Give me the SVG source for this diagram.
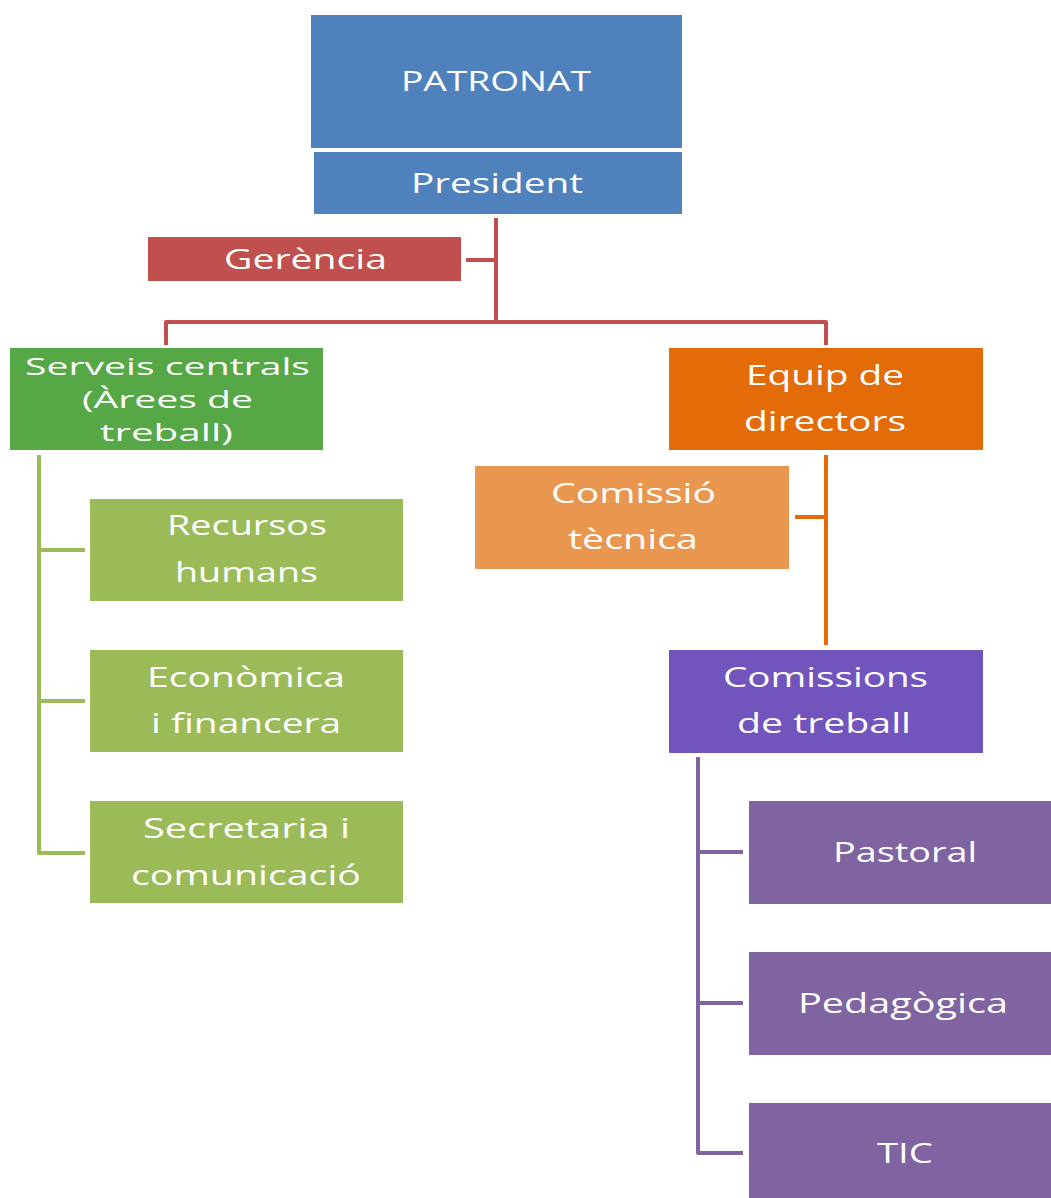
<svg xmlns="http://www.w3.org/2000/svg" width="1051" height="1198" viewBox="0 0 1051 1198">
<style>
text{font-family:"Open Sans","Noto Sans","DejaVu Sans",sans-serif;font-size:27px;fill:#ffffff;text-anchor:middle}
.tight text{font-size:24px}
.ln{fill:none;stroke-width:4;stroke-linejoin:round}
</style>
<rect width="1051" height="1198" fill="#ffffff"/>
<g id="connectors">
<path class="ln" stroke="#C0504D" d="M496,218 V322 M466,260 H496 M166,345 V322 H826 V345"/>
<path class="ln" stroke="#9BBB59" d="M39,455 V853 H85 M39,550 H85 M39,701 H85"/>
<path class="ln" stroke="#E36C09" d="M826,455 V645 M795,517 H826"/>
<path class="ln" stroke="#8064A2" d="M698,757 V1153 H743 M698,852 H743 M698,1003 H743"/>
</g>
<g id="patronat"><rect x="311" y="15" width="371" height="133" fill="#4F81BD"/><text x="496" y="91" textLength="190" lengthAdjust="spacingAndGlyphs">PATRONAT</text></g>
<g id="president"><rect x="314" y="152" width="368" height="62" fill="#4F81BD"/><text x="497" y="193" textLength="172" lengthAdjust="spacingAndGlyphs">President</text></g>
<g id="gerencia"><rect x="148" y="237" width="313" height="44" fill="#C0504D"/><text x="305.5" y="269" textLength="163" lengthAdjust="spacingAndGlyphs">Gerència</text></g>
<g id="serveis" class="tight"><rect x="10" y="348" width="313" height="102" fill="#56A846"/>
<text x="167.5" y="375" textLength="285" lengthAdjust="spacingAndGlyphs">Serveis centrals</text>
<text x="167.5" y="408" textLength="171" lengthAdjust="spacingAndGlyphs">(Àrees de</text>
<text x="166.5" y="441" textLength="133" lengthAdjust="spacingAndGlyphs">treball)</text></g>
<g id="recursos"><rect x="90" y="499" width="313" height="102" fill="#9BBB59"/>
<text x="247" y="535" textLength="160" lengthAdjust="spacingAndGlyphs">Recursos</text>
<text x="246.5" y="582" textLength="143" lengthAdjust="spacingAndGlyphs">humans</text></g>
<g id="economica"><rect x="90" y="650" width="313" height="102" fill="#9BBB59"/>
<text x="246" y="687" textLength="198" lengthAdjust="spacingAndGlyphs">Econòmica</text>
<text x="246" y="733" textLength="190" lengthAdjust="spacingAndGlyphs">i financera</text></g>
<g id="secretaria"><rect x="90" y="801" width="313" height="102" fill="#9BBB59"/>
<text x="246.5" y="838" textLength="207" lengthAdjust="spacingAndGlyphs">Secretaria i</text>
<text x="246" y="885" textLength="230" lengthAdjust="spacingAndGlyphs">comunicació</text></g>
<g id="equip"><rect x="669" y="348" width="314" height="102" fill="#E36C09"/>
<text x="825" y="385" textLength="158" lengthAdjust="spacingAndGlyphs">Equip de</text>
<text x="825" y="431" textLength="162" lengthAdjust="spacingAndGlyphs">directors</text></g>
<g id="comissio"><rect x="475" y="466" width="314" height="103" fill="#E9974F"/>
<text x="633.5" y="503" textLength="165" lengthAdjust="spacingAndGlyphs">Comissió</text>
<text x="633" y="549" textLength="130" lengthAdjust="spacingAndGlyphs">tècnica</text></g>
<g id="comissions"><rect x="669" y="650" width="314" height="103" fill="#7155BD"/>
<text x="825.5" y="687" textLength="205" lengthAdjust="spacingAndGlyphs">Comissions</text>
<text x="824" y="733" textLength="174" lengthAdjust="spacingAndGlyphs">de treball</text></g>
<g id="pastoral"><rect x="749" y="801" width="302" height="103" fill="#8064A2"/>
<text x="905" y="862" textLength="144" lengthAdjust="spacingAndGlyphs">Pastoral</text></g>
<g id="pedagogica"><rect x="749" y="952" width="302" height="103" fill="#8064A2"/>
<text x="903" y="1013" textLength="210" lengthAdjust="spacingAndGlyphs">Pedagògica</text></g>
<g id="tic"><rect x="749" y="1103" width="302" height="95" fill="#8064A2"/>
<text x="905" y="1163" textLength="56" lengthAdjust="spacingAndGlyphs">TIC</text></g>
</svg>
